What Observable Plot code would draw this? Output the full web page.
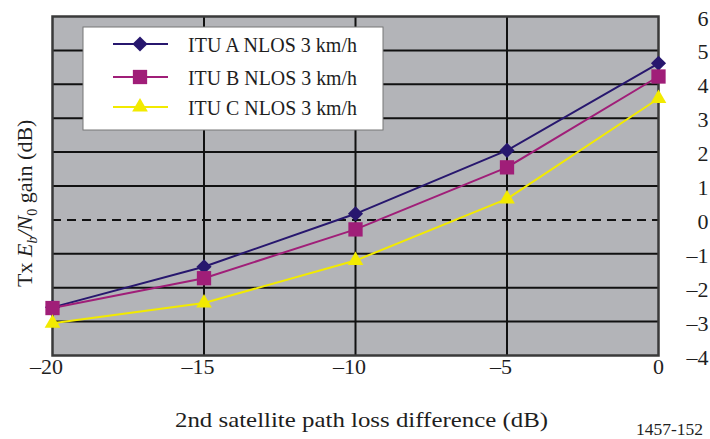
<!DOCTYPE html>
<html>
<head>
<meta charset="utf-8">
<script src="https://cdn.jsdelivr.net/npm/d3@7"></script>
<script src="https://cdn.jsdelivr.net/npm/@observablehq/plot@0.6"></script>
<style>
  html, body { margin: 0; padding: 0; background: #fff; }
  #chart svg { display: block; }
</style>
</head>
<body>
<div id="chart"></div>
<script>
const xValues = [-20, -15, -10, -5, 0];
const seriesNames = ["ITU A NLOS 3 km/h", "ITU B NLOS 3 km/h", "ITU C NLOS 3 km/h"];
const seriesA = [-2.58, -1.38, 0.18, 2.05, 4.62];
const seriesB = [-2.6, -1.72, -0.28, 1.55, 4.23];
const seriesC = [-3.05, -2.45, -1.2, 0.62, 3.58];
const seriesColors = ["#27176e", "#a01e78", "#f2ea00"];
const seriesSymbols = ["diamond2", "square2", "triangle2"];
const seriesMarkerR = [6.8, 9.1, 7.5];
const xTicks = [-20, -15, -10, -5, 0];
const yTicks = [-4, -3, -2, -1, 0, 1, 2, 3, 4, 5, 6];

const allSeries = [seriesA, seriesB, seriesC];
const data = allSeries.flatMap((vals, i) => vals.map((v, j) => ({x: xValues[j], y: v, s: seriesNames[i]})));
const fmt = d => (d < 0 ? "\u2013" + Math.abs(d) : String(d));
const font = "'Liberation Serif', 'DejaVu Serif', serif";
const ink = "#1e1e1e";

const plot = Plot.plot({
  width: 710,
  height: 439,
  marginLeft: 52,
  marginRight: 52,
  marginTop: 16,
  marginBottom: 84,
  style: {fontFamily: font, fontSize: "22px", background: "#fff", color: ink},
  x: {domain: [-20, 0], axis: null},
  y: {domain: [-4, 6], axis: null},
  color: {domain: seriesNames, range: seriesColors},
  symbol: {domain: seriesNames, range: seriesSymbols},
  marks: [
    Plot.frame({fill: "#b3b4b8"}),
    Plot.gridX(xTicks.filter(d => d > -20 && d < 0), {stroke: "#111", strokeOpacity: 1, strokeWidth: 2}),
    Plot.gridY(yTicks.filter(d => d > -4 && d < 6 && d !== 0), {stroke: "#111", strokeOpacity: 1, strokeWidth: 2}),
    Plot.ruleY([0], {stroke: "#111", strokeWidth: 2, strokeDasharray: "9,6"}),
    Plot.frame({stroke: "#3a3a3a", strokeWidth: 2.5}),
    Plot.text(xTicks.filter(d => d < 0), {x: d => d, text: fmt, frameAnchor: "bottom", dy: 18, dx: -6, fontSize: 22, fill: ink}),
    Plot.text(xTicks.filter(d => d >= 0), {x: d => d, text: fmt, frameAnchor: "bottom", dy: 18, fontSize: 22, fill: ink}),
    Plot.text(yTicks, {y: d => d, text: fmt, frameAnchor: "right", dx: 50, dy: 2, textAnchor: "end", fontSize: 22, fill: ink}),
    Plot.line(data, {x: "x", y: "y", z: "s", stroke: "s", strokeWidth: 2}),
    ...seriesNames.map((name, i) =>
      Plot.dot(data.filter(d => d.s === name), {x: "x", y: "y", fill: "s", symbol: "s", r: seriesMarkerR[i], stroke: "none"})
    )
  ]
});

const svg = d3.select(plot);
const symGen = {diamond2: d3.symbolDiamond2, square2: d3.symbolSquare2, triangle2: d3.symbolTriangle2};

// Y-axis label
const yl = svg.append("text")
  .attr("transform", "translate(32,287) rotate(-90)")
  .attr("text-anchor", "start")
  .attr("font-family", font)
  .attr("font-size", 22)
  .attr("fill", ink);
yl.append("tspan").text("Tx ");
yl.append("tspan").attr("font-style", "italic").text("E");
yl.append("tspan").attr("font-style", "italic").attr("font-size", 14).attr("dy", 5).text("b");
yl.append("tspan").attr("font-style", "italic").attr("dy", -5).text("/N");
yl.append("tspan").attr("font-size", 14).attr("dy", 5).text("0");
yl.append("tspan").attr("dy", -5).text(" gain (dB)");

// X-axis label
svg.append("text")
  .attr("x", 175).attr("y", 427)
  .attr("text-anchor", "start")
  .attr("textLength", 373).attr("lengthAdjust", "spacingAndGlyphs")
  .attr("font-family", font).attr("font-size", 22).attr("fill", ink)
  .text("2nd satellite path loss difference (dB)");

// Figure number
svg.append("text")
  .attr("x", 703).attr("y", 435)
  .attr("text-anchor", "end")
  .attr("font-family", font).attr("font-size", 17.5).attr("fill", ink)
  .text("1457-152");

// Legend
const lg = svg.append("g");
lg.append("rect").attr("x", 83).attr("y", 27).attr("width", 300).attr("height", 103)
  .attr("fill", "#fff").attr("stroke", "#777").attr("stroke-width", 1);
const rowY = [44, 77, 107];
seriesNames.forEach((name, i) => {
  const g = lg.append("g").attr("transform", `translate(0,${rowY[i]})`);
  g.append("line").attr("x1", 113).attr("x2", 168).attr("y1", 0).attr("y2", 0)
    .attr("stroke", seriesColors[i]).attr("stroke-width", 2);
  g.append("path").attr("transform", "translate(140,0)")
    .attr("d", d3.symbol(symGen[seriesSymbols[i]], Math.PI * seriesMarkerR[i] * seriesMarkerR[i])())
    .attr("fill", seriesColors[i]);
  g.append("text").attr("x", 188).attr("y", 0).attr("dy", "0.35em")
    .attr("text-anchor", "start")
    .attr("textLength", 169).attr("lengthAdjust", "spacingAndGlyphs")
    .attr("font-family", font).attr("font-size", 22).attr("fill", ink)
    .text(name);
});

document.getElementById("chart").appendChild(plot);
</script>
</body>
</html>
